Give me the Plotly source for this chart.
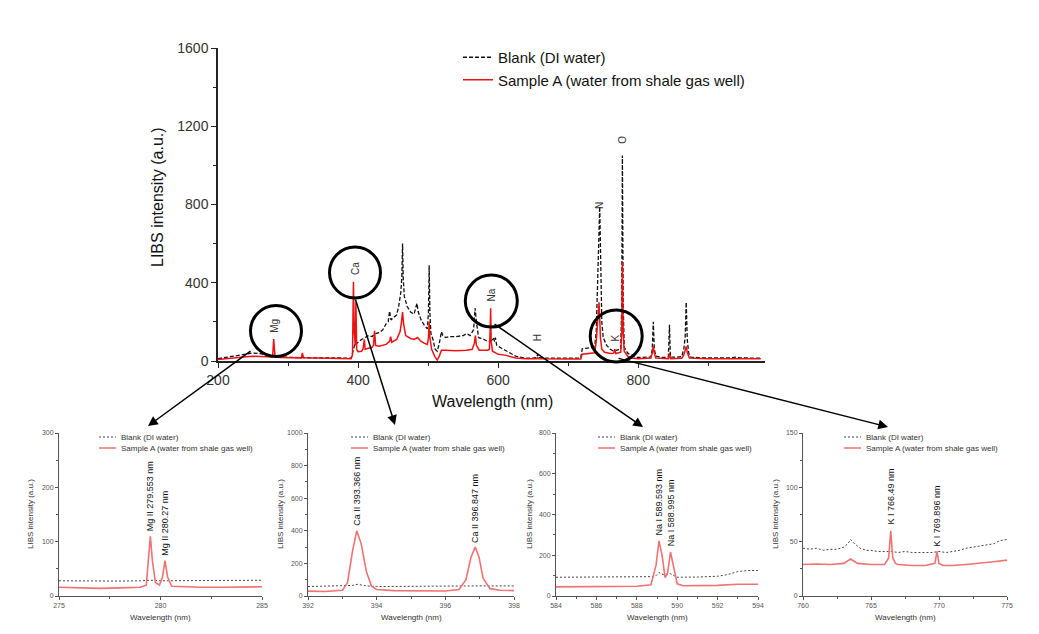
import plotly.graph_objects as go

W, H = 1039, 634
OFF = 8  # page body margin of the html page
FONT = "Arial, Liberation Sans, sans-serif"

# ---------------- main spectrum (200-980 nm) ----------------
blank_wl = [200, 210, 220, 230, 240, 250, 260, 270, 280, 290, 300, 320, 340, 360, 380, 390,
            392, 393.4, 394, 396, 398, 400, 405, 410, 415, 420, 425, 430, 435, 440, 443, 445, 447,
            450, 455, 458, 461, 462.5, 463.5, 464.5, 466, 470, 475, 480, 484, 486, 490, 495, 499,
            500.5, 501.5, 502.5, 504, 507, 510, 513, 516, 519, 521, 525, 530, 540, 550, 555, 560,
            565, 567, 569, 572, 580, 585, 588, 589, 590, 593, 595, 596, 598, 600, 605, 610, 615,
            620, 625, 630, 640, 650, 655, 656.3, 657.5, 665, 680, 700, 715, 718, 720, 725, 730,
            735, 738, 740, 742, 744, 745, 746, 747, 748, 750, 755, 760, 765, 766.5, 770, 775,
            776.5, 777.4, 778.5, 780, 785, 790, 795, 800, 810, 818, 820, 821.5, 823, 825, 835,
            843, 844.6, 846, 855, 862, 865, 867, 868.5, 870, 872, 875, 890, 900, 905, 926, 930,
            940, 945, 960, 975]
blank_int = [12, 18, 25, 32, 38, 41, 38, 30, 24, 20, 18, 17, 16, 16, 15, 15,
             40, 60, 80, 95, 90, 97, 110, 120, 130, 125, 140, 145, 158, 190, 200, 255, 210,
             220, 235, 280, 350, 430, 600, 420, 330, 280, 250, 240, 295, 250, 210, 180, 165,
             250, 490, 250, 140, 110, 60, 50, 90, 150, 130, 120, 125, 125, 130, 140, 130,
             160, 270, 200, 120, 110, 100, 100, 115, 100, 120, 100, 120, 80, 75, 65, 55, 45,
             35, 25, 20, 15, 15, 18, 35, 18, 15, 14, 14, 15, 16, 62, 65, 66,
             70, 80, 150, 400, 700, 790, 600, 400, 200, 120, 80, 60, 50, 52, 55, 60,
             300, 1050, 300, 70, 40, 30, 20, 18, 18, 20, 60, 200, 60, 25, 18,
             20, 185, 20, 20, 22, 60, 120, 300, 110, 40, 20, 16, 16, 15, 18, 16,
             20, 16, 15, 15]

sample_wl = [200, 210, 220, 230, 240, 250, 260, 270, 278, 279.5, 280.3, 281.5, 290, 300, 315,
             319, 320.5, 322, 340, 360, 380, 390, 392, 393.4, 394.5, 396, 396.9, 398, 400, 405,
             407, 409, 410, 415, 420, 422, 423.5, 425, 430, 440, 445, 446.5, 448, 455, 460, 462,
             463.5, 465, 468, 475, 480, 485, 490, 495, 499, 500.5, 501.5, 502.5, 505, 510, 513,
             516, 519, 525, 540, 555, 563, 566, 567.5, 569, 573, 585, 587.5, 588.6, 589.3, 590,
             592, 597, 600, 610, 620, 625, 640, 655, 656.3, 657.5, 700, 718, 720, 730, 738, 740,
             742, 744, 745, 746, 748, 752, 760, 765, 766.5, 768, 770, 775, 776.5, 777.4, 778.5,
             780, 785, 790, 800, 815, 818, 820, 821.5, 823, 825, 843, 844.6, 846, 862, 865, 867,
             868.5, 870, 873, 900, 926, 930, 975]
sample_int = [8, 12, 16, 20, 22, 24, 22, 20, 20, 112, 60, 20, 18, 17, 17,
              16, 42, 16, 15, 14, 13, 12, 30, 405, 150, 80, 300, 60, 48, 50,
              60, 110, 60, 65, 70, 80, 155, 80, 75, 85, 100, 125, 95, 110, 150, 200,
              250, 190, 130, 115, 110, 120, 100, 90, 85, 120, 200, 120, 60, 20, 5,
              25, 55, 55, 52, 55, 60, 90, 130, 80, 55, 55, 60, 160, 270, 100,
              50, 40, 35, 30, 22, 15, 12, 12, 20, 12, 10, 10, 35, 38, 42, 100,
              180, 300, 220, 120, 60, 45, 38, 40, 60, 38, 40, 45, 150, 505, 150,
              50, 25, 15, 12, 12, 15, 40, 75, 40, 15, 12, 40, 12, 14, 30, 50,
              75, 45, 15, 12, 14, 12, 12]

main_xticks = [200, 400, 600, 800]
main_yticks = [0, 400, 800, 1200, 1600]

# element labels on the main spectrum: (text, wavelength, intensity at label bottom)
main_labels = ["Mg", "Ca", "Na", "H", "N", "O", "K"]
main_label_wl = [281, 396.5, 591, 656.5, 745.5, 778, 767]
main_label_int = [133, 430, 296, 92, 765, 1100, 87]

# ---------------- zoom windows ----------------
mg_blank_wl = [275, 276, 277, 278, 279, 279.5, 280, 280.5, 281, 282, 283, 284, 285]
mg_blank = [28, 27.5, 28, 27.5, 28, 29, 28, 28, 28.5, 28, 29, 28.5, 29]
mg_sample_wl = [275, 276, 277, 278, 279, 279.3, 279.42, 279.5, 279.6, 279.75, 279.95, 280.1,
                280.22, 280.35, 280.55, 281, 282, 283, 284, 285]
mg_sample = [16, 15, 14, 15, 16, 20, 70, 110, 65, 25, 20, 35, 65, 35, 18, 17, 16, 16, 16.5, 17]

ca_blank_wl = [392, 393, 393.3, 393.45, 393.7, 394, 395, 395.5, 396, 396.85, 397, 398]
ca_blank = [58, 60, 65, 72, 62, 58, 60, 63, 62, 64, 62, 62]
ca_sample_wl = [392, 392.5, 393.0, 393.15, 393.3, 393.42, 393.55, 393.7, 393.85, 394, 394.5,
                395, 395.5, 396, 396.4, 396.6, 396.75, 396.87, 396.98, 397.1, 397.3, 397.6, 398]
ca_sample = [30, 28, 35, 80, 280, 400, 320, 150, 60, 40, 33, 32, 30, 31, 40, 100, 240, 300,
             240, 110, 45, 35, 33]

na_blank_wl = [584, 586, 588, 588.9, 589.1, 589.3, 589.65, 589.85, 590, 591, 592, 592.5, 593,
               593.5, 594]
na_blank = [92, 92, 92, 95, 115, 105, 110, 100, 92, 93, 97, 105, 120, 125, 125]
na_sample_wl = [584, 586, 588, 588.7, 588.95, 589.1, 589.25, 589.4, 589.52, 589.67, 589.82,
                590.0, 590.3, 591, 592, 593, 594]
na_sample = [45, 47, 48, 55, 150, 270, 200, 90, 110, 215, 140, 60, 50, 50, 52, 58, 58]

k_blank_wl = [760, 760.5, 761, 761.5, 762, 762.5, 763, 763.3, 763.5, 763.8, 764.2, 764.7, 765,
              765.5, 766, 766.5, 767, 767.5, 768, 768.5, 769, 769.5, 770, 770.5, 771, 771.5,
              772, 772.5, 773, 773.5, 774, 774.5, 775]
k_blank = [44, 43, 44, 42, 43, 43, 45, 48, 52, 48, 44, 42, 42, 41, 41, 41, 40, 41, 40, 40, 40,
           40, 41, 40, 41, 42, 44, 45, 46, 47, 48, 51, 52]
k_sample_wl = [760, 761, 762, 763, 763.5, 764, 765, 766, 766.3, 766.45, 766.6, 766.8, 767, 768,
               769, 769.7, 769.85, 770.0, 770.3, 771, 772, 773, 774, 775]
k_sample = [29, 29.5, 29, 30, 34, 30, 29, 29, 35, 60, 35, 30, 29, 28, 28, 30, 41, 30, 28, 28,
            29, 30, 31.5, 33]

# peak labels in zoom windows: (text, wavelength, intensity at label bottom)
mg_peak_text = ["Mg II 279.553 nm", "Mg II 280.27 nm"]
mg_peak_wl = [279.5, 280.24]
mg_peak_int = [116, 70]
ca_peak_text = ["Ca II 393.366 nm", "Ca II 396.847 nm"]
ca_peak_wl = [393.42, 396.87]
ca_peak_int = [420, 311]
na_peak_text = ["Na I 589.593 nm", "Na I 588.995 nm"]
na_peak_wl = [589.1, 589.67]
na_peak_int = [285, 235]
k_peak_text = ["K I 766.49 nm", "K I 769.896 nm"]
k_peak_wl = [766.47, 769.85]
k_peak_int = [64, 44]

BLANK_NAME = "Blank (DI water)"
SAMPLE_NAME = "Sample A (water from shale gas well)"


def fx(p):
    return (p - OFF) / W


def fy(p):
    return 1 - (p - OFF) / H


fig = go.Figure()

# main traces
fig.add_trace(go.Scatter(x=blank_wl, y=blank_int, mode="lines", name=BLANK_NAME,
                         line=dict(color="#111111", width=1.3, dash="4px,2px"),
                         xaxis="x", yaxis="y"))
fig.add_trace(go.Scatter(x=sample_wl, y=sample_int, mode="lines", name=SAMPLE_NAME,
                         line=dict(color="#ee1111", width=1.5),
                         xaxis="x", yaxis="y"))

# zoom windows
zooms = [
    dict(bwl=mg_blank_wl, b=mg_blank, swl=mg_sample_wl, s=mg_sample, px=(59, 262),
         xr=[275, 285], xt=5, xm=2.5, yr=[0, 300], yt=100, ym=50,
         pt=mg_peak_text, pw=mg_peak_wl, pi=mg_peak_int, leg=119, ytx=30),
    dict(bwl=ca_blank_wl, b=ca_blank, swl=ca_sample_wl, s=ca_sample, px=(308, 514),
         xr=[392, 398], xt=2, xm=1, yr=[0, 1000], yt=200, ym=100,
         pt=ca_peak_text, pw=ca_peak_wl, pi=ca_peak_int, leg=371, ytx=280),
    dict(bwl=na_blank_wl, b=na_blank, swl=na_sample_wl, s=na_sample, px=(556, 758),
         xr=[584, 594], xt=2, xm=1, yr=[0, 800], yt=200, ym=100,
         pt=na_peak_text, pw=na_peak_wl, pi=na_peak_int, leg=618, ytx=529),
    dict(bwl=k_blank_wl, b=k_blank, swl=k_sample_wl, s=k_sample, px=(803, 1007),
         xr=[760, 775], xt=5, xm=2.5, yr=[0, 150], yt=50, ym=25,
         pt=k_peak_text, pw=k_peak_wl, pi=k_peak_int, leg=864, ytx=775),
]

annotations = []
shapes = []
layout_axes = {}

for i, z in enumerate(zooms, start=2):
    xa, ya = f"x{i}", f"y{i}"
    fig.add_trace(go.Scatter(x=z["bwl"], y=z["b"], mode="lines", name=BLANK_NAME,
                             showlegend=False,
                             line=dict(color="#444444", width=1, dash="2px,2px"),
                             xaxis=xa, yaxis=ya))
    fig.add_trace(go.Scatter(x=z["swl"], y=z["s"], mode="lines", name=SAMPLE_NAME,
                             showlegend=False,
                             line=dict(color="#f07272", width=1.6),
                             xaxis=xa, yaxis=ya))
    axcommon = dict(showline=True, linecolor="#555555", linewidth=1, showgrid=False,
                    zeroline=False, ticks="outside", ticklen=3, tickwidth=1,
                    tickcolor="#555555", tickfont=dict(size=7, color="#555555", family=FONT),
                    automargin=False)
    layout_axes[f"xaxis{i}"] = dict(domain=[fx(z["px"][0]), fx(z["px"][1])], anchor=ya,
                                    range=z["xr"], dtick=z["xt"], tick0=z["xr"][0],
                                    minor=dict(dtick=z["xm"], tick0=z["xr"][0], ticks="outside",
                                               ticklen=2, tickcolor="#555555"),
                                    **axcommon)
    layout_axes[f"yaxis{i}"] = dict(domain=[fy(596), fy(433)], anchor=xa,
                                    range=z["yr"], dtick=z["yt"], tick0=0,
                                    minor=dict(dtick=z["ym"], tick0=0, ticks="outside",
                                               ticklen=2, tickcolor="#555555"),
                                    **axcommon)
    # peak labels
    for t, w, v in zip(z["pt"], z["pw"], z["pi"]):
        annotations.append(dict(text=t, x=w, y=v, xref=xa, yref=ya, showarrow=False,
                                textangle=-90, xanchor="center", yanchor="bottom",
                                font=dict(size=9, color="#111111", family=FONT)))
    # axis titles
    annotations.append(dict(text="Wavelength (nm)", x=fx((z["px"][0] + z["px"][1]) / 2),
                            y=fy(617), xref="paper", yref="paper", showarrow=False,
                            xanchor="center", yanchor="middle",
                            font=dict(size=8, color="#333333", family=FONT)))
    annotations.append(dict(text="LIBS intensity (a.u.)", x=fx(z["ytx"]), y=fy(514),
                            xref="paper", yref="paper", showarrow=False, textangle=-90,
                            xanchor="center", yanchor="middle",
                            font=dict(size=8, color="#333333", family=FONT)))
    # small legend
    lx = z["leg"]
    shapes.append(dict(type="line", xref="paper", yref="paper", x0=fx(lx - 20), x1=fx(lx - 3),
                       y0=fy(437), y1=fy(437), line=dict(color="#444444", width=1, dash="2px,2px")))
    shapes.append(dict(type="line", xref="paper", yref="paper", x0=fx(lx - 20), x1=fx(lx - 3),
                       y0=fy(448), y1=fy(448), line=dict(color="#f07272", width=1.5)))
    annotations.append(dict(text=BLANK_NAME, x=fx(lx), y=fy(437), xref="paper", yref="paper",
                            showarrow=False, xanchor="left", yanchor="middle",
                            font=dict(size=8, color="#333333", family=FONT)))
    annotations.append(dict(text=SAMPLE_NAME, x=fx(lx), y=fy(448), xref="paper", yref="paper",
                            showarrow=False, xanchor="left", yanchor="middle",
                            font=dict(size=8, color="#333333", family=FONT)))

# main element labels
for t, w, v in zip(main_labels, main_label_wl, main_label_int):
    annotations.append(dict(text=t, x=w, y=v, xref="x", yref="y", showarrow=False,
                            textangle=-90, xanchor="center", yanchor="bottom",
                            font=dict(size=10, color="#333333", family=FONT)))

# main axis titles
annotations.append(dict(text="Wavelength (nm)", x=fx(492), y=fy(401), xref="paper", yref="paper",
                        showarrow=False, xanchor="center", yanchor="middle",
                        font=dict(size=16, color="#111111", family=FONT)))
annotations.append(dict(text="LIBS intensity (a.u.)", x=fx(158), y=fy(197), xref="paper",
                        yref="paper", showarrow=False, textangle=-90, xanchor="center",
                        yanchor="middle", font=dict(size=16, color="#111111", family=FONT)))

# circles around the magnified lines (pixel centres, radius)
circles = [(276, 331, 25.5), (355, 272.5, 25.5), (491.3, 301, 26), (616.2, 336, 26)]
for cx, cy, r in circles:
    shapes.append(dict(type="circle", xref="paper", yref="paper",
                       x0=fx(cx - r), x1=fx(cx + r), y0=fy(cy + r), y1=fy(cy - r),
                       line=dict(color="#000000", width=3)))

# arrows from circles to zoom windows: (tail px, head px)
arrows = [((252, 350), (148, 426)), ((355, 298), (395, 425)),
          ((493, 323), (643, 427)), ((617, 358), (888, 427))]
for (tx, ty), (hx, hy) in arrows:
    annotations.append(dict(text="", x=fx(hx), y=fy(hy), xref="paper", yref="paper",
                            ax=tx - hx, ay=ty - hy, axref="pixel", ayref="pixel",
                            showarrow=True, arrowhead=2, arrowsize=1.3, arrowwidth=1.5,
                            arrowcolor="#000000", standoff=0, startstandoff=0))

fig.update_layout(
    width=W, height=H, autosize=False,
    margin=dict(l=0, r=0, t=0, b=0, pad=0),
    paper_bgcolor="white", plot_bgcolor="white",
    font=dict(family=FONT, color="#222222"),
    xaxis=dict(domain=[fx(218), fx(765)], anchor="y", range=[200, 981],
               tickmode="array", tickvals=main_xticks,
               ticks="outside", ticklen=5, tickwidth=1.2, tickcolor="#222222",
               minor=dict(dtick=100, tick0=0, ticks="outside", ticklen=3, tickcolor="#222222"),
               showline=True, linecolor="#222222", linewidth=1.5, showgrid=False,
               zeroline=False, tickfont=dict(size=14, color="#333333", family=FONT),
               automargin=False),
    yaxis=dict(domain=[fy(361), fy(48)], anchor="x", range=[0, 1600],
               tickmode="array", tickvals=main_yticks,
               ticks="outside", ticklen=5, tickwidth=1.2, tickcolor="#222222",
               minor=dict(dtick=200, tick0=0, ticks="outside", ticklen=3, tickcolor="#222222"),
               showline=True, linecolor="#222222", linewidth=1.5, showgrid=False,
               zeroline=False, tickfont=dict(size=14, color="#333333", family=FONT),
               automargin=False),
    legend=dict(x=fx(458), y=fy(41), xanchor="left", yanchor="top",
                bgcolor="rgba(0,0,0,0)", borderwidth=0,
                font=dict(size=15, color="#111111", family=FONT), tracegroupgap=0),
    showlegend=True,
    annotations=annotations,
    shapes=shapes,
    **layout_axes,
)

fig.write_html("out.html", config={"displayModeBar": False})
